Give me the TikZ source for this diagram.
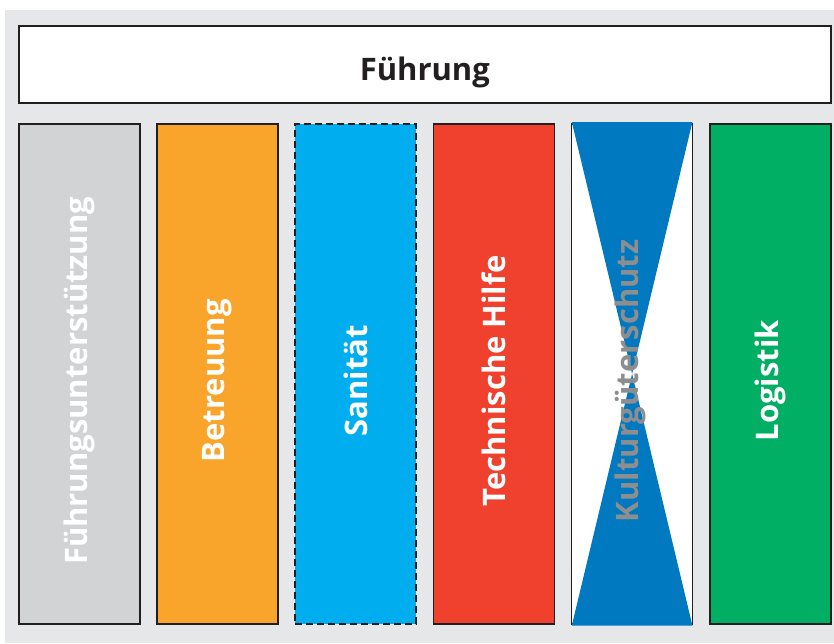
\documentclass[tikz,border=0pt]{standalone}
\usepackage{fontspec}
\setmainfont{Open Sans}
\usepackage{tikz}
\usetikzlibrary{positioning}
\definecolor{panelgrau}{HTML}{E6E7E8}
\definecolor{rahmen}{HTML}{231F20}
\definecolor{fustgrau}{HTML}{D1D3D4}
\definecolor{betrorange}{HTML}{F9A52B}
\definecolor{sanblau}{HTML}{00AEEF}
\definecolor{throt}{HTML}{EF412D}
\definecolor{kgsblau}{HTML}{0079C1}
\definecolor{kgsgrau}{HTML}{8C8E90}
\definecolor{loggruen}{HTML}{00AF64}
\tikzset{
	saeule/.style={draw=rahmen,line width=1.6pt,anchor=north west,inner sep=0pt,minimum width=121pt,minimum height=500pt},
	titel/.style={font=\bfseries\fontsize{31}{31}\selectfont,text=white,rotate=90,inner sep=0pt}
}

\begin{document}
\begin{tikzpicture}[x=1pt,y=-1pt]
			\useasboundingbox (0,0) rectangle (834,643);
			\fill [panelgrau] (5,10) rectangle (834,643);
			\node [draw=rahmen,line width=1.6pt,anchor=north west,inner sep=0pt,minimum width=812pt,minimum height=77pt,fill=white] (fuehrung) at (18,25) {};
			\node [font=\bfseries\fontsize{31}{31}\selectfont,text=rahmen] at ([yshift=-8pt]fuehrung.center) {Führung};
			\node [saeule,fill=fustgrau] (fust) at (18,123) {};
			\node [saeule,fill=betrorange] (betr) at (156.2,123) {};
			\node [saeule,fill=sanblau,dash pattern=on 7pt off 4pt,line width=1.8pt] (san) at (294.4,123) {};
			\node [saeule,fill=throt] (th) at (432.6,123) {};
			\node [saeule,fill=white] (kgs) at (570.8,123) {};
			\node [saeule,fill=loggruen] (log) at (709,123) {};
			\fill [kgsblau] ([shift={(1,-1)}]kgs.north west) -- ([shift={(-1,-1)}]kgs.north east) -- (kgs.center) -- cycle;
			\fill [kgsblau] ([shift={(1,1)}]kgs.south west) -- ([shift={(-1,1)}]kgs.south east) -- (kgs.center) -- cycle;
			\node [titel] at ([yshift=-7pt]fust.center) {Führungsunterstützung};
			\node [titel] at ([yshift=-7pt]betr.center) {Betreuung};
			\node [titel] at ([yshift=-7pt]san.center) {Sanität};
			\node [titel] at ([yshift=-7pt]th.center) {Technische Hilfe};
			\node [titel,text=kgsgrau] at ([xshift=-2pt,yshift=-7pt]kgs.center) {Kulturgüterschutz};
			\node [titel] at ([yshift=-7pt]log.center) {Logistik};
		\end{tikzpicture}
\end{document}
